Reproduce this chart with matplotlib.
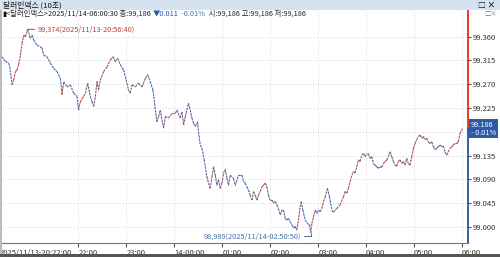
import numpy as np
import pandas as pd
import matplotlib
matplotlib.use('Agg')
import matplotlib.pyplot as plt
import matplotlib.dates as mdates
import matplotlib.transforms as mtransforms
from matplotlib.collections import LineCollection
from matplotlib.patches import Rectangle

plt.rcParams['font.family'] = ['Noto Sans CJK KR', 'DejaVu Sans']

# 달러인덱스 (10초) - 2025/11/13 20:22 ~ 2025/11/14 06:00
times = [
    '20:24:40', '20:28:50', '20:32:50', '20:34:10', '20:37:10', '20:39:10', '20:41:20', '20:43:20',
    '20:45:20', '20:47:30', '20:49:40', '20:51:40', '20:53:50', '20:55:50', '20:56:40', '21:00:00',
    '21:02:10', '21:04:10', '21:06:20', '21:08:20', '21:12:30', '21:14:40', '21:16:40', '21:20:50',
    '21:25:00', '21:29:10', '21:33:20', '21:37:30', '21:39:40', '21:41:40', '21:45:50', '21:50:00',
    '21:54:10', '21:58:20', '22:00:20', '22:02:30', '22:06:40', '22:08:50', '22:11:40', '22:15:00',
    '22:17:10', '22:19:10', '22:21:20', '22:23:20', '22:25:20', '22:27:30', '22:31:40', '22:35:50',
    '22:40:00', '22:43:20', '22:46:20', '22:49:10', '22:52:30', '22:56:40', '23:00:50', '23:02:50',
    '23:05:00', '23:07:10', '23:11:20', '23:15:20', '23:19:40', '23:23:50', '23:26:40', '23:30:00',
    '23:33:20', '23:35:00', '23:36:20', '23:38:20', '23:40:20', '23:42:30', '23:44:40', '23:46:40',
    '23:48:50', '23:52:50', '23:57:10', '00:01:20', '00:03:20', '00:07:30', '00:09:40', '00:11:40',
    '00:13:50', '00:17:50', '00:20:00', '00:22:10', '00:24:10', '00:26:20', '00:29:10', '00:30:20',
    '00:32:30', '00:34:40', '00:37:30', '00:40:50', '00:42:50', '00:45:00', '00:47:10', '00:49:10',
    '00:51:20', '00:53:20', '00:55:20', '00:57:30', '00:59:40', '01:01:40', '01:03:50', '01:05:50',
    '01:07:50', '01:10:00', '01:14:10', '01:16:20', '01:20:20', '01:24:40', '01:26:40', '01:28:50',
    '01:30:50', '01:32:50', '01:35:00', '01:37:10', '01:39:10', '01:41:20', '01:43:20', '01:45:20',
    '01:47:30', '01:49:40', '01:51:40', '01:53:50', '01:55:50', '01:57:50', '02:00:00', '02:02:10',
    '02:04:10', '02:06:20', '02:08:20', '02:10:20', '02:12:30', '02:14:40', '02:16:40', '02:18:50',
    '02:20:50', '02:22:50', '02:25:00', '02:27:10', '02:29:10', '02:31:20', '02:33:20', '02:35:20',
    '02:37:30', '02:38:50', '02:40:50', '02:43:50', '02:46:40', '02:49:10', '02:50:50', '02:52:10',
    '02:54:10', '02:56:20', '02:58:20', '03:00:20', '03:02:30', '03:04:40', '03:06:40', '03:08:50',
    '03:11:40', '03:14:10', '03:17:10', '03:19:10', '03:23:20', '03:27:30', '03:31:40', '03:33:50',
    '03:35:50', '03:37:50', '03:40:00', '03:42:10', '03:44:10', '03:46:20', '03:48:20', '03:50:20',
    '03:52:30', '03:54:40', '03:56:40', '03:58:50', '04:00:50', '04:02:50', '04:05:00', '04:07:10',
    '04:09:10', '04:11:20', '04:13:20', '04:15:20', '04:17:30', '04:19:40', '04:21:40', '04:23:50',
    '04:25:50', '04:27:50', '04:30:00', '04:32:10', '04:34:10', '04:36:20', '04:38:20', '04:40:20',
    '04:42:30', '04:44:40', '04:46:40', '04:48:50', '04:50:50', '04:52:50', '04:55:00', '04:57:10',
    '04:59:10', '05:01:20', '05:03:20', '05:05:20', '05:07:30', '05:09:40', '05:11:40', '05:13:50',
    '05:15:50', '05:17:50', '05:20:00', '05:22:10', '05:24:10', '05:26:20', '05:28:20', '05:30:20',
    '05:32:30', '05:34:40', '05:36:40', '05:38:50', '05:40:50', '05:42:50', '05:45:00', '05:47:10',
    '05:49:10', '05:51:20', '05:53:20', '05:55:20', '05:57:30', '06:00:30',
]
prices = [
    99.322, 99.313, 99.310, 99.303, 99.269, 99.278, 99.294, 99.297,
    99.307, 99.325, 99.348, 99.363, 99.360, 99.370, 99.374, 99.357,
    99.363, 99.354, 99.348, 99.344, 99.341, 99.338, 99.325, 99.322,
    99.310, 99.300, 99.294, 99.281, 99.250, 99.275, 99.265, 99.269,
    99.253, 99.247, 99.221, 99.237, 99.247, 99.253, 99.272, 99.247,
    99.237, 99.228, 99.247, 99.275, 99.259, 99.278, 99.294, 99.303,
    99.316, 99.322, 99.313, 99.319, 99.307, 99.297, 99.272, 99.259,
    99.253, 99.269, 99.265, 99.272, 99.265, 99.281, 99.288, 99.275,
    99.259, 99.240, 99.221, 99.199, 99.209, 99.221, 99.202, 99.187,
    99.209, 99.206, 99.215, 99.215, 99.221, 99.206, 99.218, 99.193,
    99.209, 99.234, 99.221, 99.206, 99.196, 99.190, 99.199, 99.180,
    99.155, 99.149, 99.127, 99.095, 99.083, 99.073, 99.095, 99.114,
    99.098, 99.079, 99.089, 99.073, 99.083, 99.102, 99.109, 99.092,
    99.079, 99.098, 99.092, 99.079, 99.098, 99.098, 99.086, 99.083,
    99.076, 99.070, 99.060, 99.051, 99.067, 99.060, 99.051, 99.060,
    99.067, 99.076, 99.079, 99.083, 99.076, 99.060, 99.051, 99.051,
    99.045, 99.048, 99.042, 99.035, 99.023, 99.032, 99.032, 99.016,
    99.013, 99.016, 99.010, 99.004, 98.998, 99.001, 98.994, 99.013,
    99.038, 99.048, 99.032, 99.013, 99.007, 99.004, 98.989, 99.007,
    99.019, 99.032, 99.026, 99.032, 99.029, 99.035, 99.048, 99.057,
    99.073, 99.057, 99.032, 99.028, 99.035, 99.042, 99.057, 99.067,
    99.064, 99.073, 99.086, 99.098, 99.105, 99.102, 99.114, 99.127,
    99.124, 99.136, 99.139, 99.133, 99.139, 99.139, 99.130, 99.133,
    99.120, 99.117, 99.114, 99.111, 99.114, 99.113, 99.120, 99.124,
    99.127, 99.133, 99.142, 99.133, 99.124, 99.117, 99.115, 99.124,
    99.127, 99.120, 99.124, 99.117, 99.130, 99.120, 99.117, 99.133,
    99.149, 99.158, 99.165, 99.171, 99.174, 99.168, 99.171, 99.165,
    99.168, 99.161, 99.158, 99.161, 99.152, 99.146, 99.149, 99.152,
    99.155, 99.152, 99.153, 99.142, 99.136, 99.142, 99.149, 99.152,
    99.155, 99.158, 99.158, 99.161, 99.177, 99.186,
]

ytick_vals = [99.000, 99.045, 99.090, 99.135, 99.180, 99.225, 99.270, 99.315, 99.360]
ytick_labels = ['99.000', '99.045', '99.090', '99.135', '', '99.225', '99.270', '99.315', '99.360']
xtick_times = ['2025-11-13 20:22:00', '2025-11-13 22:00', '2025-11-13 23:00', '2025-11-14 00:00',
               '2025-11-14 01:00', '2025-11-14 02:00', '2025-11-14 03:00', '2025-11-14 04:00',
               '2025-11-14 05:00', '2025-11-14 06:00']
xtick_labels = ['2025/11/13-20:22:00', '22:00', '23:00', '14-00:00', '01:00', '02:00',
                '03:00', '04:00', '05:00', '06:00']

hi_time, hi_val = '2025-11-13 20:56:40', 99.374
lo_time, lo_val = '2025-11-14 02:50:50', 98.989
last_val = 99.186

# 자정 넘어가면 14일
dts = [pd.Timestamp(('2025-11-14 ' if t < '12' else '2025-11-13 ') + t) for t in times]
x = mdates.date2num(dts)
y = np.array(prices)

RED = '#c24a42'
BLUE = '#4a67a8'

fig = plt.figure(figsize=(5, 2.57), dpi=100)
W, H = 500, 257
ax = fig.add_axes([0.0, 1 - 243 / H, 468 / W, (243 - 10) / H])

x0 = mdates.date2num(pd.Timestamp('2025-11-13 20:22:30'))
x1 = mdates.date2num(pd.Timestamp('2025-11-14 06:07:30'))
ax.set_xlim(x0, x1)
ax.set_ylim(98.9697, 99.4105)

# 상승 구간 빨강, 하락 구간 파랑 (점선처럼 끊어 그림)
pts = np.column_stack([x, y]).reshape(-1, 1, 2)
segs = np.concatenate([pts[:-1], pts[1:]], axis=1)
cols = [RED if b >= a else BLUE for a, b in zip(y[:-1], y[1:])]
ax.add_collection(LineCollection(segs, colors=cols, linewidths=0.75, linestyles=[(0, (2.2, 1.0))]))
ax.plot(x, y, color=BLUE, lw=0.6, linestyle=(2.2, (1.0, 2.2)), alpha=0.7)

ax.grid(True, color='#cfcfcf', linestyle=(0, (1, 2)), linewidth=0.6)
for s in ['top', 'left', 'right']:
    ax.spines[s].set_visible(False)
ax.spines['bottom'].set_color('#777777')
ax.spines['bottom'].set_linewidth(0.8)

ax.yaxis.tick_right()
ax.set_yticks(ytick_vals)
ax.set_yticklabels(ytick_labels)
ax.tick_params(axis='y', length=2, pad=1.5, labelsize=5.5, colors='#555555', labelcolor='#333333')

ax.set_xticks(mdates.date2num([pd.Timestamp(t) for t in xtick_times]))
ax.set_xticklabels(xtick_labels)
ax.tick_params(axis='x', length=3, pad=1, labelsize=5.5, colors='#555555', labelcolor='#333333')
for lab in ax.get_xticklabels():
    lab.set_ha('left')

# 오른쪽 축선: 현재가 위 빨강, 아래 파랑
ax.plot([x1, x1], [last_val, 99.4105], color='#e02b20', lw=1.3, clip_on=False)
ax.plot([x1, x1], [98.9697, last_val], color='#2a5298', lw=1.3, clip_on=False)

trans = mtransforms.blended_transform_factory(ax.transAxes, ax.transData)
ax.text(1.006, last_val, '99.186\n- 0.01%', transform=trans, ha='left', va='center',
        fontsize=5.3, color='white', linespacing=0.95,
        bbox=dict(boxstyle='square,pad=0.2', fc='#2c5aa8', ec='none'))

# 최고/최저 표시
hx = mdates.date2num(pd.Timestamp(hi_time))
ax.annotate('99,374(2025/11/13-20:56:40)', xy=(hx, hi_val), xytext=(7, 0), textcoords='offset points',
            ha='left', va='center', fontsize=5.3, color='#b5473a',
            arrowprops=dict(arrowstyle='-', color='#b5473a', lw=0.7, shrinkA=0, shrinkB=0, relpos=(0, 0.5)))
lx = mdates.date2num(pd.Timestamp(lo_time))
ax.annotate('98,989(2025/11/14-02:50:50)', xy=(lx, lo_val), xytext=(-7, -2.5), textcoords='offset points',
            ha='right', va='center', fontsize=5.3, color='#4a6fa5',
            arrowprops=dict(arrowstyle='-', color='#4a6fa5', lw=0.7, shrinkA=0, shrinkB=0, relpos=(1, 0.5),
                            connectionstyle='angle,angleA=0,angleB=90,rad=0'))

# 상단 타이틀 바
fig.patches.append(Rectangle((0, 1 - 10 / H), 1, 10 / H, transform=fig.transFigure,
                             fc='#d5e3f0', ec='none', zorder=0))
fig.text(3 / W, 1 - 8 / H, '달러인덱스 (10초)', va='baseline', ha='left', fontsize=5.6, color='#111111')
fig.text(495 / W, 1 - 8 / H, '□ ×', va='baseline', ha='right', fontsize=5.6, color='#222222', weight='bold')
fig.text(497 / W, 1 - 14 / H, '□×', va='center', ha='right', fontsize=4.5, color='#777777')

# 하단/좌측 테두리
fig.patches.append(Rectangle((0, 0), 1, 3 / H, transform=fig.transFigure, fc='#555555', ec='none'))
fig.patches.append(Rectangle((0, 3 / H), 1.5 / W, 1 - 13 / H, transform=fig.transFigure, fc='#bbbbbb', ec='none'))

# 정보 줄
fig.canvas.draw()
rend = fig.canvas.get_renderer()
pieces = [('▮', '#111111'), ('<달러인덱스>2025/11/14-06:00:30 종:99,186 ', '#222222'),
          ('▼0.011', '#2c5aa8'), ('  -0.01% ', '#4a6fa5'), (' 시:99,186 고:99,186 저:99,186', '#222222')]
xp = 2 / W
for s, c in pieces:
    t = fig.text(xp, 1 - 14 / H, s, va='center', ha='left', fontsize=5.3, color=c)
    xp += t.get_window_extent(renderer=rend).width / fig.bbox.width

fig.savefig('out.png', dpi=100)
